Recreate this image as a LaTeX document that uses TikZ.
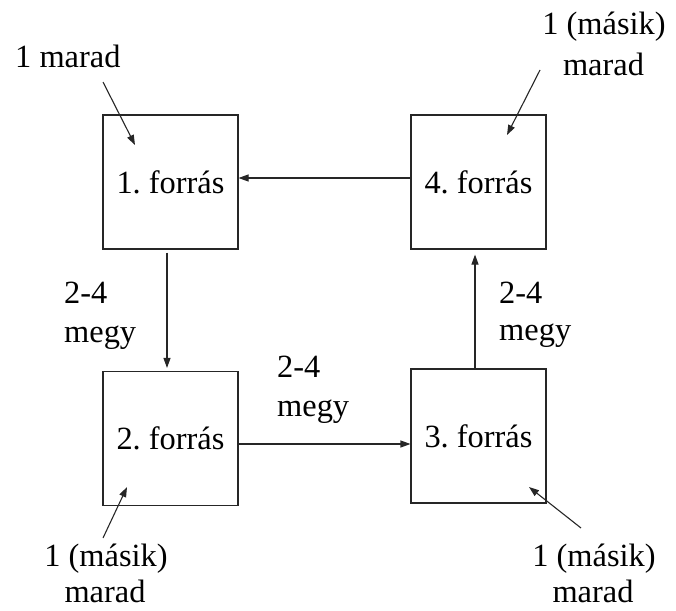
\documentclass[tikz,border=0pt]{standalone}
\usepackage{fontspec}
\setmainfont{Liberation Serif}
\usetikzlibrary{arrows.meta}
\frenchspacing
\tikzset{
  box/.style={draw=black!85, line width=1.1pt, minimum width=135pt, minimum height=134pt, inner sep=0pt, font=\fontsize{32.4}{40}\selectfont},
  lbl/.style={inner sep=0pt, font=\fontsize{32.4}{40}\selectfont},
  arr/.style={draw=black!85, line width=1.1pt, -{Triangle[length=10pt,width=7pt]}},
}
\begin{document}
\begin{tikzpicture}[x=1pt,y=-1pt]
\useasboundingbox (0,0) rectangle (676,610);
% boxes
\node[box] (b1) at (170.5,182) {\raisebox{-3pt}{1. forrás}};
\node[box] (b4) at (478.5,182) {\raisebox{-3pt}{4. forrás}};
\node[box] (b2) at (170.5,438.5) {\raisebox{-3pt}{2. forrás}};
\node[box] (b3) at (478.5,436) {\raisebox{-3pt}{3. forrás}};
% labels
\node[lbl, anchor=base west] (l1) at (15,67) {1 marad};
\node[lbl, anchor=base] (l4a) at (604,35) {1 (másik)};
\node[lbl, anchor=base] (l4b) at (603.5,75) {marad};
\node[lbl, anchor=base] (l2a) at (106,566) {1 (másik)};
\node[lbl, anchor=base] (l2b) at (105,602) {marad};
\node[lbl, anchor=base] (l3a) at (594,566) {1 (másik)};
\node[lbl, anchor=base] (l3b) at (593,602) {marad};
\node[lbl, anchor=base west] (m1a) at (64,303) {2-4};
\node[lbl, anchor=base west] (m1b) at (64,342) {megy};
\node[lbl, anchor=base west] (m2a) at (277,377) {2-4};
\node[lbl, anchor=base west] (m2b) at (277,416) {megy};
\node[lbl, anchor=base west] (m3a) at (499,303) {2-4};
\node[lbl, anchor=base west] (m3b) at (499,340) {megy};
% free-end coordinates
\coordinate (s1) at (103,82);
\coordinate (e1) at (135,145);
\coordinate (s4) at (540,70);
\coordinate (e4) at (507,135);
\coordinate (s2) at (103,538);
\coordinate (e2) at (127,487);
\coordinate (s3) at (581,528);
\coordinate (e3) at (529,487);
% connectors
\draw[arr] ([yshift=4pt]b4.west) -- ([yshift=4pt]b4.west -| b1.east);
\draw[arr, shorten <=3pt, shorten >=3pt] ([xshift=-3.5pt]b1.south) -- ([xshift=-3.5pt]b1.south |- b2.north);
\draw[arr] ([yshift=-5.5pt]b2.east) -- ([yshift=-5.5pt]b2.east -| b3.west);
\draw[arr, shorten <=0pt, shorten >=5pt] ([xshift=-3.5pt]b3.north) -- ([xshift=-3.5pt]b3.north |- b4.south);
\draw[arr] (s1) -- (e1);
\draw[arr] (s4) -- (e4);
\draw[arr] (s2) -- (e2);
\draw[arr] (s3) -- (e3);
\end{tikzpicture}
\end{document}
